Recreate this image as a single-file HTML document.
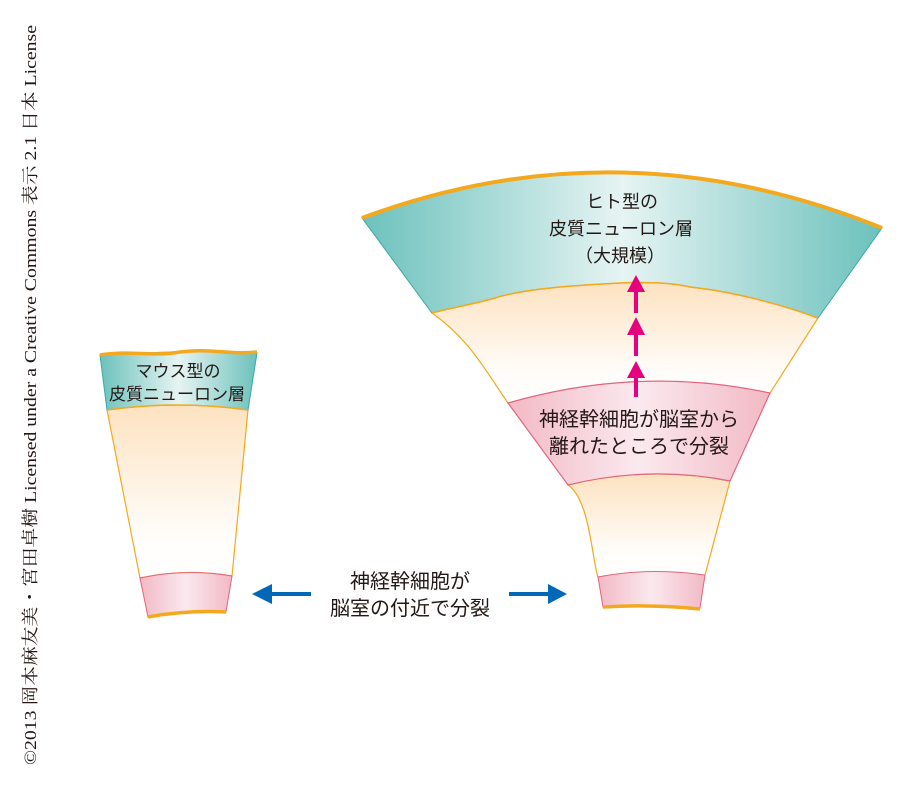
<!DOCTYPE html>
<html><head><meta charset="utf-8"><style>
html,body{margin:0;padding:0;background:#fff}
svg{display:block}
text{font-family:"Liberation Sans","Noto Sans CJK JP",sans-serif;fill:#231815}
</style></head><body>
<svg width="906" height="786" viewBox="0 0 906 786" xmlns="http://www.w3.org/2000/svg">
<defs>
<linearGradient id="teal" x1="0" x2="1" y1="0" y2="0">
<stop offset="0" stop-color="#6cc1bc"/><stop offset="0.5" stop-color="#e6f4f3"/><stop offset="1" stop-color="#6cc1bc"/>
</linearGradient>
<linearGradient id="cream" x1="0" x2="0" y1="0" y2="1">
<stop offset="0" stop-color="#fde2c0"/><stop offset="0.75" stop-color="#fffdfa"/><stop offset="1" stop-color="#ffffff"/>
</linearGradient>
<linearGradient id="pink" x1="0" x2="1" y1="0" y2="0">
<stop offset="0" stop-color="#f2b9c4"/><stop offset="0.5" stop-color="#fbe9ef"/><stop offset="1" stop-color="#f2b9c4"/>
</linearGradient>
</defs>

<text transform="translate(36,765) rotate(-90)" x="0" y="0" textLength="740" lengthAdjust="spacingAndGlyphs" style="font-family:'Liberation Serif','Noto Serif CJK SC',serif;font-size:17px">©2013 岡本麻友美・宮田卓樹 Licensed under a Creative Commons 表示 2.1 日本 License</text>

<!-- small fan -->
<path d="M107,410 Q178,400 248,410 L232,576 Q186,568 140,578 Z" fill="url(#cream)" stroke="#f4a81d" stroke-width="1.2"/>
<path d="M100,355 Q178,350 257,353 L248,410 Q178,400 107,410 Z" fill="url(#teal)" stroke="#3aa8a8" stroke-width="1"/>
<path d="M107,410 Q178,400 248,410" fill="none" stroke="#f4a81d" stroke-width="1.5"/>
<path d="M100,355 C130,350 150,357 180,352 C210,348 230,355 257,352" fill="none" stroke="#f4a81d" stroke-width="3.5"/>
<path d="M140,578 Q186,568 232,576 L226,612 Q186,610 148,617 Z" fill="url(#pink)" stroke="#e2657f" stroke-width="1"/>
<path d="M148,617 Q186,610 226,612" fill="none" stroke="#f4a81d" stroke-width="3.5"/>
<text x="178" y="377" text-anchor="middle" font-size="17">マウス型の</text>
<text x="177" y="400" text-anchor="middle" font-size="17">皮質ニューロン層</text>

<!-- large fan -->
<path d="M818,318 C770,300 720,290 690,287 C670,282 640,282 620,283 C560,286 520,290 495,298 C470,305 450,308 432,313 C470,340 485,370 508,403 L770,393 Z" fill="url(#cream)" stroke="#f4a81d" stroke-width="1.2"/>
<path d="M568,485 Q650,465 730,481 L705,575 L598,577 C592,560 590,500 568,485 Z" fill="url(#cream)" stroke="#f4a81d" stroke-width="1.2"/>
<path d="M362,218 Q620,122 882,228 L818,318 C770,300 720,290 690,287 C670,282 640,282 620,283 C560,286 520,290 495,298 C470,305 450,308 432,313 Z" fill="url(#teal)" stroke="#3aa8a8" stroke-width="1"/>
<path d="M818,318 C770,300 720,290 690,287 C670,282 640,282 620,283 C560,286 520,290 495,298 C470,305 450,308 432,313" fill="none" stroke="#f4a81d" stroke-width="1.5"/>
<path d="M362,218 Q620,122 882,228" fill="none" stroke="#f4a81d" stroke-width="4"/>
<path d="M508,403 Q640,365 770,393 L730,481 Q650,465 568,485 Z" fill="url(#pink)" stroke="#e2657f" stroke-width="1.2"/>
<path d="M598,577 Q650,567 705,575 L700,608 Q650,604 603,607 Z" fill="url(#pink)" stroke="#e2657f" stroke-width="1"/>
<path d="M603,607 Q650,604 700,609" fill="none" stroke="#f4a81d" stroke-width="3.5"/>

<text x="622" y="208" text-anchor="middle" font-size="18">ヒト型の</text>
<text x="621" y="235" text-anchor="middle" font-size="18">皮質ニューロン層</text>
<text x="620" y="262" text-anchor="middle" font-size="18">（大規模）</text>
<text x="639" y="426" text-anchor="middle" font-size="20">神経幹細胞が脳室から</text>
<text x="639" y="453" text-anchor="middle" font-size="20">離れたところで分裂</text>

<g fill="#e4007f">
<polygon points="636,275 627,292 645,292"/><rect x="634" y="291" width="4" height="22"/>
<polygon points="636,317 627,335 645,335"/><rect x="634" y="334" width="4" height="22"/>
<polygon points="636,361 627,378 645,378"/><rect x="634" y="377" width="4" height="20"/>
</g>

<g fill="#0068b7">
<polygon points="252,594 272,584 272,604"/><rect x="270" y="592" width="41" height="4"/>
<polygon points="567,594 548,584 548,604"/><rect x="509" y="592" width="41" height="4"/>
</g>
<text x="410" y="588" text-anchor="middle" font-size="20">神経幹細胞が</text>
<text x="410" y="615" text-anchor="middle" font-size="20">脳室の付近で分裂</text>
</svg>
</body></html>
